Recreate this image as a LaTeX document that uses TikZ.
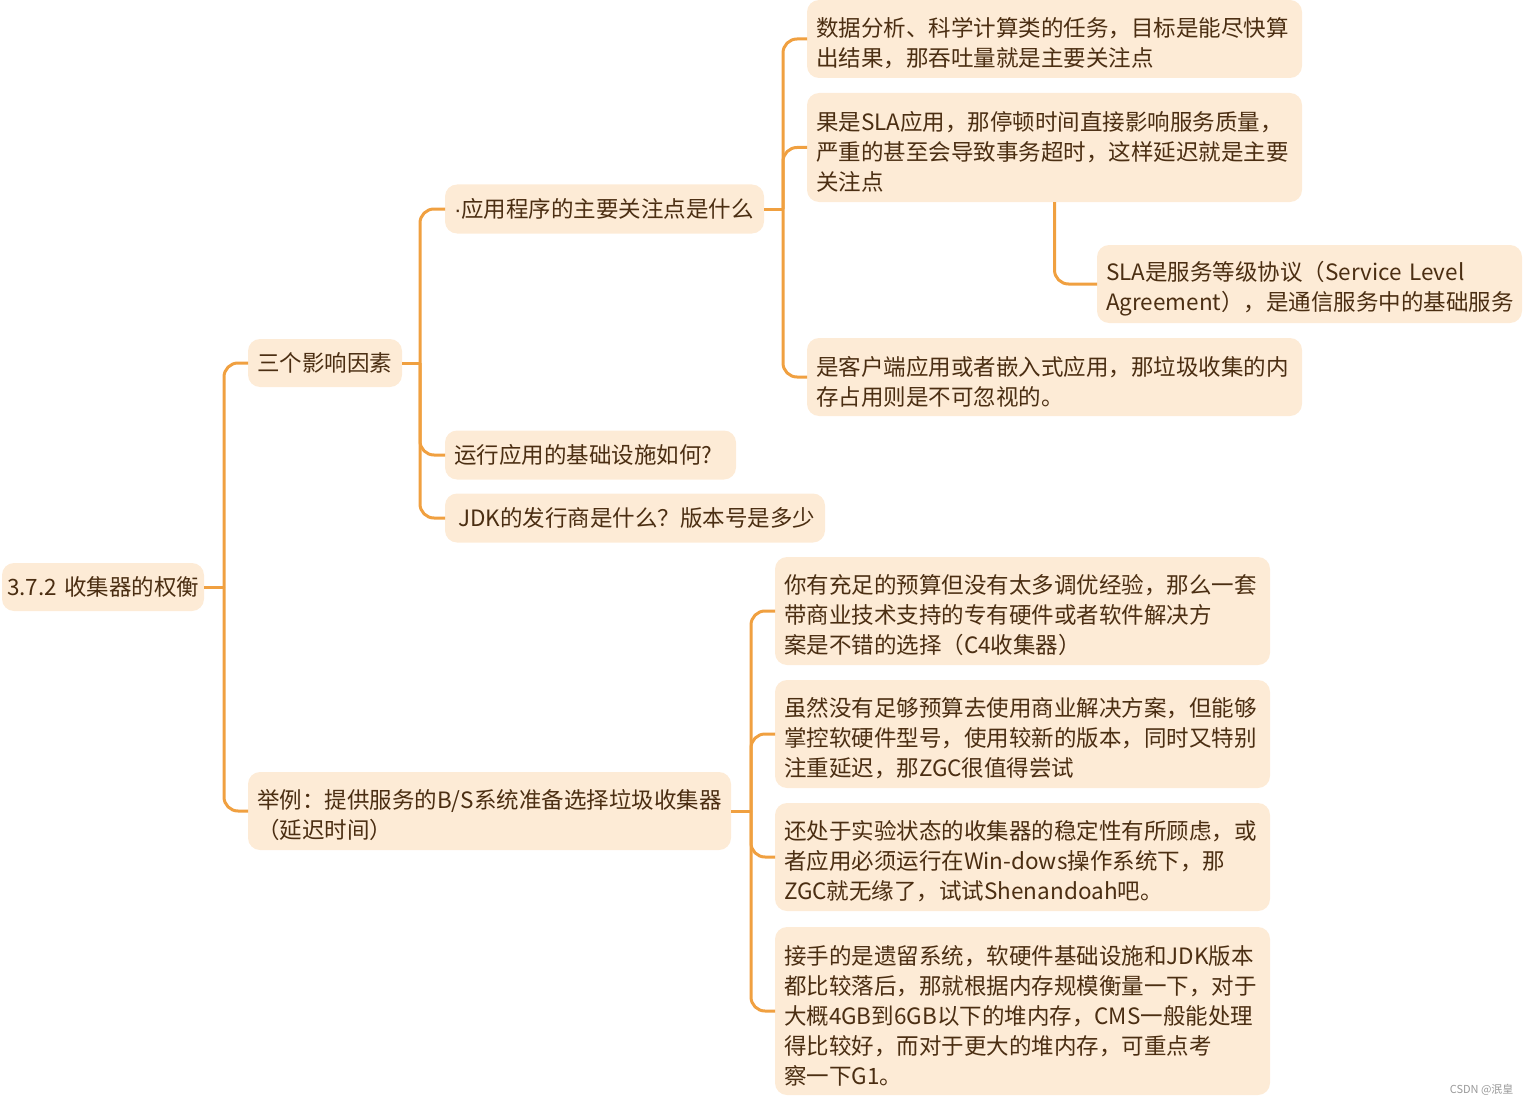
\documentclass[tikz,border=0pt]{standalone}
\usepackage{fontspec}
\setmainfont{Noto Sans CJK SC}
\newfontfamily\dotfont{Liberation Sans}
\usepackage{xcolor}
\usepackage{tikz}
\usetikzlibrary{positioning}
\definecolor{topicfill}{HTML}{FDEBD6}
\definecolor{topictext}{HTML}{4B2E12}
\definecolor{branch}{HTML}{F0A040}
\tikzset{
  topic/.style={fill=topicfill, text=topictext, rounded corners=12pt,
    inner xsep=9pt, inner ysep=0pt, outer sep=0pt, anchor=west, align=left,
    font=\fontsize{22.5}{30}\selectfont,
    execute at begin node={\hyphenpenalty=10000\exhyphenpenalty=10000}},
  multiline/.style={execute at begin node={\hyphenpenalty=10000\exhyphenpenalty=10000\rule{0pt}{28pt}}},
  link/.style={draw=branch, line width=3pt, rounded corners=14pt}
}

\begin{document}
\begin{tikzpicture}[x=1pt, y=-1pt]
\useasboundingbox (0,0) rectangle (1532,1105);
% root and first level
\node[topic, inner xsep=5pt, text width=192pt, minimum height=48pt] (root) at (2,587) {3.7.2~收集器的权衡};
\node[topic, text width=136pt, minimum height=48pt] (factors) at (248,363) {三个影响因素};
\node[topic, multiline, text width=465pt, minimum height=78pt] (example) at (248,811)
  {举例：提供服务的B/S系统准备选择垃圾收集器\\（延迟时间）};

% three factors
\node[topic, text width=301pt, minimum height=49pt] (focus) at (445,209) {{\dotfont ·}应用程序的主要关注点是什么};
\node[topic, text width=273pt, minimum height=49pt] (infra) at (445,455) {运行应用的基础设施如何?};
\node[topic, text width=362pt, minimum height=49pt] (jdk) at (445,518) {\hspace*{4pt}JDK的发行商是什么？版本号是多少};

% main focus of the application
\node[topic, multiline, text width=477pt, minimum height=78pt] (throughput) at (807,39)
  {数据分析、科学计算类的任务，目标是能尽快算\\出结果，那吞吐量就是主要关注点};
\node[topic, multiline, text width=477pt, minimum height=109pt] (slaq) at (807,147.5)
  {果是SLA应用，那停顿时间直接影响服务质量，\\严重的甚至会导致事务超时，这样延迟就是主要\\关注点};
\node[topic, multiline, text width=407pt, minimum height=78pt] (sladef) at (1097,284)
  {SLA是服务等级协议（Service~Level\\Agreement），是通信服务中的基础服务};
\node[topic, multiline, text width=477pt, minimum height=78pt] (client) at (807,377)
  {是客户端应用或者嵌入式应用，那垃圾收集的内\\存占用则是不可忽视的。};

% example cases
\node[topic, multiline, text width=477pt, minimum height=108pt] (budget) at (775,611)
  {你有充足的预算但没有太多调优经验，那么一套\\带商业技术支持的专有硬件或者软件解决方\\案是不错的选择（C4收集器）};
\node[topic, multiline, text width=477pt, minimum height=108pt] (zgc) at (775,734)
  {虽然没有足够预算去使用商业解决方案，但能够\\掌控软硬件型号，使用较新的版本，同时又特别\\注重延迟，那ZGC很值得尝试};
\node[topic, multiline, text width=477pt, minimum height=108pt] (shen) at (775,857)
  {还处于实验状态的收集器的稳定性有所顾虑，或\\者应用必须运行在Win-dows操作系统下，那\\ZGC就无缘了，试试Shenandoah吧。};
\node[topic, multiline, text width=477pt, minimum height=168pt] (legacy) at (775,1011)
  {接手的是遗留系统，软硬件基础设施和JDK版本\\都比较落后，那就根据内存规模衡量一下，对于\\大概4GB到6GB以下的堆内存，CMS一般能处理\\得比较好，而对于更大的堆内存，可重点考\\察一下G1。};

% forks
\coordinate[right=20pt of root] (rootfork);
\coordinate[right=18pt of factors] (factorsfork);
\coordinate[right=19pt of focus] (focusfork);
\coordinate[right=20pt of example] (examplefork);

% branches
\draw[link] (root) -- (rootfork);
\foreach \child in {factors, example}
  \draw[link] (rootfork) |- (\child.west);
\draw[link] (factors) -- (factorsfork);
\foreach \child in {focus, infra, jdk}
  \draw[link] (factorsfork) |- (\child.west);
\draw[link] (focus) -- (focusfork);
\foreach \child in {throughput, slaq, client}
  \draw[link] (focusfork) |- (\child.west);
\draw[link] (slaq.south) |- (sladef.west);
\draw[link] (example) -- (examplefork);
\foreach \child in {budget, zgc, shen, legacy}
  \draw[link] (examplefork) |- (\child.west);

\node[anchor=east, text=gray!80, font=\fontsize{11}{13}\selectfont] (mark) at (1517,1090) {CSDN @泯皇};
\end{tikzpicture}
\end{document}
